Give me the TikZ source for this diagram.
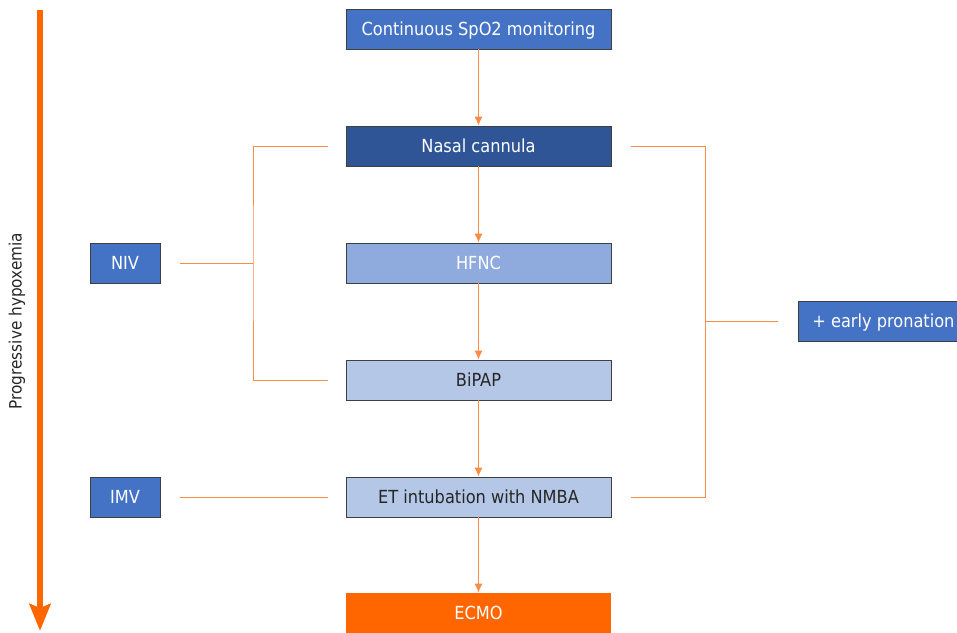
\documentclass[tikz,border=0pt]{standalone}
\usepackage{fontspec}
\setmainfont{DejaVu Sans Condensed}
\usetikzlibrary{arrows,arrows.meta}

\definecolor{midblue}{HTML}{4472C4}
\definecolor{darkblue}{HTML}{2F5597}
\definecolor{softblue}{HTML}{8FAADC}
\definecolor{paleblue}{HTML}{B4C7E7}
\definecolor{hypoorange}{HTML}{FF6600}
\definecolor{linkorange}{HTML}{FA8C46}
\definecolor{boxedge}{HTML}{3F3F3F}
\definecolor{darktext}{HTML}{262626}

\begin{document}
\begin{tikzpicture}[x=1pt, y=-1pt,
		box/.style={draw=boxedge, line width=0.8pt, minimum width=265pt, minimum height=40pt, inner sep=0pt,
			text height=13pt, text depth=1pt, font=\fontsize{18}{20}\selectfont},
		sidebox/.style={box, minimum width=70pt, fill=midblue, text=white},
		link/.style={draw=linkorange, line width=1pt},
		flow/.style={link, -{Latex[length=9pt,width=8pt]}}]
				\useasboundingbox (0,0) rectangle (957,632);
				% progressive hypoxemia
				\coordinate (hypotop) at (40,10);
				\coordinate (hypobot) at (40,631);
				\draw [hypoorange, line width=6pt, -{Stealth[length=27pt,width=21pt,inset=4pt]}] (hypotop) -- (hypobot);
				\node [rotate=90, text=darktext, font=\fontsize{17}{19}\selectfont] (hypolabel) at (17,321) {Progressive hypoxemia};
				% main column
				\node [box, fill=midblue, text=white] (spo2) at (478.5,29) {Continuous SpO2 monitoring};
				\node [box, fill=darkblue, text=white] (nasal) at (478.5,146) {Nasal cannula};
				\node [box, fill=softblue, text=white] (hfnc) at (478.5,263) {HFNC};
				\node [box, fill=paleblue, text=darktext] (bipap) at (478.5,380) {BiPAP};
				\node [box, fill=paleblue, text=darktext] (eti) at (478.5,497) {ET intubation with NMBA};
				\node [box, fill=hypoorange, text=white, draw=none] (ecmo) at (478.5,613) {ECMO};
				\draw [flow] (spo2) -- (nasal);
				\draw [flow] (nasal) -- (hfnc);
				\draw [flow] (hfnc) -- (bipap);
				\draw [flow] (bipap) -- (eti);
				\draw [flow] (eti) -- (ecmo);
				% side boxes
				\node [sidebox] (niv) at (125,263) {NIV};
				\node [sidebox] (imv) at (125,497) {IMV};
				\node [sidebox, minimum width=175pt, anchor=west] (prone) at (798,321) {\hspace{-5pt}+ early pronation\hspace{8pt}};
				% brackets
				\coordinate (leftmid) at (253,263);
				\coordinate (rightmid) at (705,321);
				\draw [link] ([xshift=-18pt]nasal.west) -| (leftmid) |- ([xshift=-18pt]bipap.west);
				\draw [link] ([xshift=20pt]niv.east) -- (leftmid);
				\draw [link] ([xshift=20pt]imv.east) -- ([xshift=-18pt]eti.west);
				\draw [link] ([xshift=20pt]nasal.east) -| (rightmid) |- ([xshift=20pt]eti.east);
				\draw [link] (rightmid) -- ([xshift=-20pt]prone.west);
			\end{tikzpicture}
\end{document}
